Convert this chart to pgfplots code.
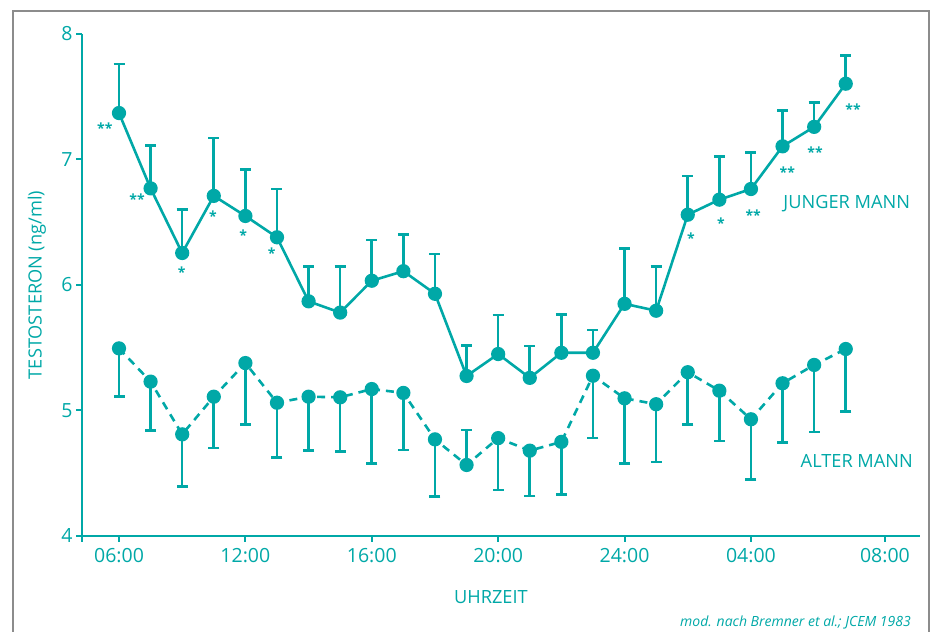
\documentclass[border=0pt]{standalone}
\usepackage{pgfplots}
\pgfplotsset{compat=1.18}
\usepackage{fontspec}
\setmainfont{Open Sans}
\definecolor{teal1}{RGB}{0,168,167}
\begin{document}
\begin{tikzpicture}
\path[use as bounding box] (0pt,0pt) rectangle (935pt,632pt);
\draw[gray!90, line width=1.2pt] (13pt,-5pt) -- (13pt,621pt) -- (929pt,621pt) -- (929pt,-5pt);
\begin{axis}[
  at={(82pt,96pt)}, anchor=south west,
  scale only axis, width=838pt, height=502pt,
  xmin=-1.171, xmax=25.35, ymin=4, ymax=8,
  axis lines*=left,
  axis line style={teal1, line width=2.4pt},
  clip=false,
  xtick={0,4,8,12,16,20,24.24},
  xticklabels={06:00,12:00,16:00,20:00,24:00,04:00,08:00},
  extra x ticks={-1.171}, extra x tick labels={},
  ytick={4,5,6,7,8},
  tick style={teal1, line width=2pt},
  major tick length=6pt,
  tick align=outside,
  x tick label style={font=\fontsize{19.5}{22}\selectfont, text=teal1, yshift=-3pt},
  y tick label style={font=\fontsize{19.5}{22}\selectfont, text=teal1, xshift=0pt},
  /pgf/number format/assume math mode=true,
  xlabel={UHRZEIT}, ylabel={TESTOSTERON (ng/ml)},
  xlabel style={font=\fontsize{18.2}{21}\selectfont, text=teal1, at={(axis description cs:0.488,-0.1215)}, anchor=center},
  ylabel style={font=\fontsize{18.2}{21}\selectfont, text=teal1, at={(axis description cs:-0.0537,0.5)}, anchor=center},
  every axis plot/.append style={teal1, line width=2.6pt},
]
% young man
\addplot[mark=*, mark size=5.8pt, mark options={solid},
  error bars/.cd, y dir=plus, y explicit,
  error bar style={line width=2.6pt, solid},
  error mark options={rotate=90, mark size=5.5pt, line width=2.6pt}]
coordinates {
(0,7.37) +- (0,0.39)
(1,6.77) +- (0,0.34)
(2,6.255) +- (0,0.345)
(3,6.71) +- (0,0.46)
(4,6.55) +- (0,0.37)
(5,6.38) +- (0,0.385)
(6,5.87) +- (0,0.276)
(7,5.78) +- (0,0.366)
(8,6.034) +- (0,0.326)
(9,6.11) +- (0,0.29)
(10,5.93) +- (0,0.317)
(11,5.275) +- (0,0.241)
(12,5.45) +- (0,0.31)
(13,5.26) +- (0,0.254)
(14,5.46) +- (0,0.307)
(15,5.46) +- (0,0.18)
(16,5.85) +- (0,0.44)
(17,5.795) +- (0,0.351)
(18,6.56) +- (0,0.31)
(19,6.68) +- (0,0.345)
(20,6.765) +- (0,0.289)
(21,7.105) +- (0,0.285)
(22,7.26) +- (0,0.196)
(23,7.604) +- (0,0.223)
};
% old man error bars (down)
\addplot[draw=none, mark=none, forget plot,
  error bars/.cd, y dir=minus, y explicit,
  error bar style={line width=2.6pt, solid},
  error mark options={rotate=90, mark size=5.5pt, line width=2.6pt}]
coordinates {
(0,5.495) -= (0,0.385)
(1,5.23) -= (0,0.39)
(2,4.81) -= (0,0.417)
(3,5.11) -= (0,0.41)
(4,5.378) -= (0,0.488)
(5,5.062) -= (0,0.435)
(6,5.11) -= (0,0.43)
(7,5.105) -= (0,0.43)
(8,5.171) -= (0,0.595)
(9,5.14) -= (0,0.455)
(10,4.77) -= (0,0.454)
(12,4.78) -= (0,0.413)
(13,4.68) -= (0,0.36)
(14,4.75) -= (0,0.418)
(15,5.277) -= (0,0.497)
(16,5.097) -= (0,0.517)
(17,5.05) -= (0,0.46)
(18,5.305) -= (0,0.415)
(19,5.158) -= (0,0.401)
(20,4.93) -= (0,0.48)
(21,5.217) -= (0,0.474)
(22,5.363) -= (0,0.533)
(23,5.49) -= (0,0.5)
};
\addplot[draw=none, mark=none, forget plot,
  error bars/.cd, y dir=plus, y explicit,
  error bar style={line width=2.6pt, solid},
  error mark options={rotate=90, mark size=5.5pt, line width=2.6pt}]
coordinates {(11,4.566) += (0,0.279)};
% old man line
\addplot[mark=*, mark size=5.8pt, mark options={solid}, dash pattern=on 8pt off 6pt]
coordinates {
(0,5.495) (1,5.23) (2,4.81) (3,5.11) (4,5.378) (5,5.062) (6,5.11) (7,5.105)
(8,5.171) (9,5.14) (10,4.77) (11,4.566) (12,4.78) (13,4.68) (14,4.75) (15,5.277)
(16,5.097) (17,5.05) (18,5.305) (19,5.158) (20,4.93) (21,5.217) (22,5.363) (23,5.49)
};
% significance stars
\begin{scope}[every node/.style={text=teal1, font=\fontsize{14}{14}\bfseries\selectfont, inner sep=0pt}]
\node at (axis cs:-0.45,7.25) {**};
\node at (axis cs:0.57,6.68) {**};
\node at (axis cs:1.98,6.1) {*};
\node at (axis cs:2.97,6.55) {*};
\node at (axis cs:3.93,6.4) {*};
\node at (axis cs:4.83,6.25) {*};
\node at (axis cs:18.1,6.37) {*};
\node at (axis cs:19.05,6.49) {*};
\node at (axis cs:20.07,6.56) {**};
\node at (axis cs:21.15,6.9) {**};
\node at (axis cs:22.03,7.06) {**};
\node at (axis cs:23.23,7.4) {**};
\end{scope}
\node[text=teal1, font=\fontsize{18.2}{21}\selectfont, anchor=east, inner sep=0pt] at (axis cs:25.04,6.65) {JUNGER MANN};
\node[text=teal1, font=\fontsize{18.2}{21}\selectfont, inner sep=0pt] at (axis cs:23.35,4.6) {ALTER MANN};
\end{axis}
\node[text=teal1, font=\fontsize{14}{16}\itshape, anchor=east, inner sep=0pt] at (911pt,10pt) {mod. nach Bremner et al.; JCEM 1983};
\end{tikzpicture}
\end{document}
